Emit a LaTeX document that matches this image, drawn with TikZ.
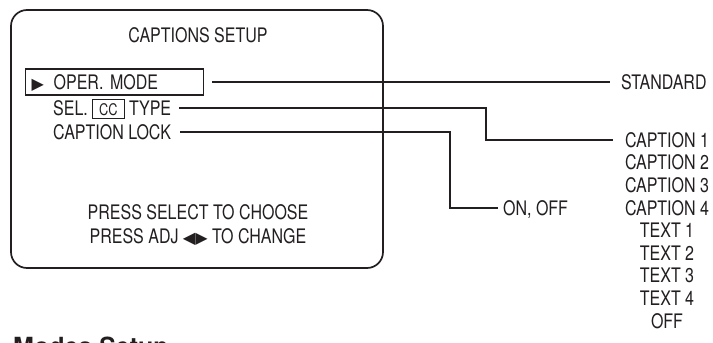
\documentclass[tikz,border=0pt]{standalone}
\usepackage{fontspec}
\setmainfont{TeX Gyre Heros}[FakeStretch=0.8]
\newfontfamily\headfont{TeX Gyre Heros}
\newfontfamily\symfont{DejaVu Sans}
\usetikzlibrary{positioning}
\definecolor{ink}{HTML}{231F20}

\newcommand{\ccmark}{{\setlength{\fboxsep}{3pt}\setlength{\fboxrule}{0.9pt}\fbox{\fontsize{16}{16}\selectfont\hspace{3pt}CC\hspace{3pt}}}}
\newcommand{\trimark}[1]{{\symfont\fontsize{16}{16}\selectfont #1}}

\begin{document}
\begin{tikzpicture}[
    x=1pt, y=-1pt,
    font=\fontsize{20}{24}\selectfont,
    osdframe/.style={draw=ink, line width=1.7pt, rounded corners=16pt,
                minimum width=372pt, minimum height=258pt},
    menutext/.style={inner sep=0pt, text height=14.4pt, text depth=0pt, text=ink},
    selbox/.style={draw=ink, line width=1.4pt, minimum width=178pt, minimum height=26pt,
                inner xsep=6pt, text width=166pt, align=left,
                text height=14.4pt, text depth=0pt, text=ink},
    link/.style={draw=ink, line width=1.3pt}
  ]
    \useasboundingbox (0,0) rectangle (713,343);
    \node[osdframe] (osd) at (197,139) {};
    \node[menutext] (title) at (198,35) {CAPTIONS SETUP};
    \node[selbox, anchor=west] (oper) at (25,82) {\makebox[22pt][l]{\trimark{▶}}OPER. MODE};
    \node[menutext, anchor=west] (seltype) at (53,108) {SEL. \ccmark\ TYPE};
    \node[menutext, anchor=west] (lock) at (53,132) {CAPTION LOCK};
    \node[inner sep=0pt, align=center, text=ink] (hint) at (198,225)
        {PRESS SELECT TO CHOOSE\\PRESS ADJ \trimark{◀}\trimark{▶} TO CHANGE};
    % values
    \node[menutext, anchor=west] (standard) at (621,82) {STANDARD};
    \foreach \opt [count=\i] in {CAPTION 1,CAPTION 2,CAPTION 3,CAPTION 4,TEXT 1,TEXT 2,TEXT 3,TEXT 4,OFF}
      \node[menutext] (opt\i) at (667,{140+22.6*(\i-1)}) {\opt};
    \node[menutext, anchor=west] (onoff) at (503,208) {ON, OFF};
    \coordinate (seljog) at (486,0);
    \coordinate (lockjog) at (450,0);
    \draw[link] ([xshift=8pt]oper.east) -- ([xshift=-11pt]standard.west);
    \draw[link] ([xshift=8pt]seltype.east) -- (seltype.east -| seljog) |- ([xshift=-12pt]opt1.west);
    \draw[link] ([xshift=9pt]lock.east) -- (lock.east -| lockjog) |- ([xshift=-5pt]onoff.west);
    \node[anchor=north west, inner sep=0pt, text=ink,
          font=\headfont\bfseries\fontsize{25}{25}\selectfont] (nexthead) at (13,337) {Modes Setup};
  \end{tikzpicture}
\end{document}
